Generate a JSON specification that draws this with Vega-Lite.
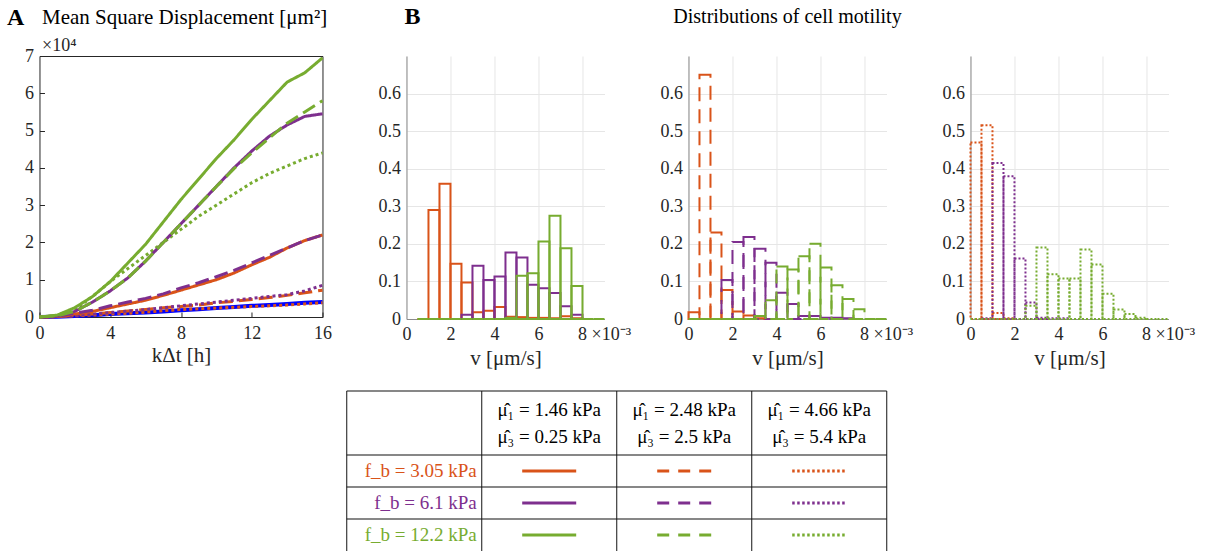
{
  "$schema": "https://vega.github.io/schema/vega-lite/v6.json",
  "background": "white",
  "padding": {"left": 5, "top": 4, "right": 5, "bottom": 0},
  "config": {
    "font": "Liberation Serif",
    "view": {"stroke": null},
    "axis": {"labelFont": "Liberation Serif", "titleFont": "Liberation Serif", "labelFontSize": 18, "titleFontSize": 21, "titleFontWeight": "normal", "labelColor": "#262626", "titleColor": "#262626", "labelOverlap": false, "labelFlush": false},
    "title": {"font": "Liberation Serif", "color": "#000000"},
    "text": {"font": "Liberation Serif"}
  },
  "resolve": {"scale": {"color": "independent", "strokeDash": "independent"}},
  "datasets": {
    "msd_reference": [
      {"t": 0, "msd": 0}, {"t": 1, "msd": 0.01}, {"t": 2, "msd": 0.03}, {"t": 3, "msd": 0.05}, {"t": 4, "msd": 0.08}, {"t": 5, "msd": 0.1}, {"t": 6, "msd": 0.12}, {"t": 7, "msd": 0.15}, {"t": 8, "msd": 0.18}, {"t": 9, "msd": 0.21}, {"t": 10, "msd": 0.24}, {"t": 11, "msd": 0.27}, {"t": 12, "msd": 0.3}, {"t": 13, "msd": 0.32}, {"t": 14, "msd": 0.35}, {"t": 15, "msd": 0.38}, {"t": 16, "msd": 0.4}
    ],
    "msd_model": [
      {"fb": "3.05", "mu": "4.66/5.4", "t": 0, "msd": 0}, {"fb": "3.05", "mu": "4.66/5.4", "t": 1, "msd": 0.01}, {"fb": "3.05", "mu": "4.66/5.4", "t": 2, "msd": 0.03}, {"fb": "3.05", "mu": "4.66/5.4", "t": 3, "msd": 0.05}, {"fb": "3.05", "mu": "4.66/5.4", "t": 4, "msd": 0.08}, {"fb": "3.05", "mu": "4.66/5.4", "t": 5, "msd": 0.1}, {"fb": "3.05", "mu": "4.66/5.4", "t": 6, "msd": 0.13}, {"fb": "3.05", "mu": "4.66/5.4", "t": 7, "msd": 0.17}, {"fb": "3.05", "mu": "4.66/5.4", "t": 8, "msd": 0.2}, {"fb": "3.05", "mu": "4.66/5.4", "t": 9, "msd": 0.22}, {"fb": "3.05", "mu": "4.66/5.4", "t": 10, "msd": 0.24}, {"fb": "3.05", "mu": "4.66/5.4", "t": 11, "msd": 0.26}, {"fb": "3.05", "mu": "4.66/5.4", "t": 12, "msd": 0.28}, {"fb": "3.05", "mu": "4.66/5.4", "t": 13, "msd": 0.3}, {"fb": "3.05", "mu": "4.66/5.4", "t": 14, "msd": 0.32}, {"fb": "3.05", "mu": "4.66/5.4", "t": 15, "msd": 0.35}, {"fb": "3.05", "mu": "4.66/5.4", "t": 16, "msd": 0.38},
      {"fb": "3.05", "mu": "2.48/2.5", "t": 0, "msd": 0}, {"fb": "3.05", "mu": "2.48/2.5", "t": 1, "msd": 0.01}, {"fb": "3.05", "mu": "2.48/2.5", "t": 2, "msd": 0.04}, {"fb": "3.05", "mu": "2.48/2.5", "t": 3, "msd": 0.08}, {"fb": "3.05", "mu": "2.48/2.5", "t": 4, "msd": 0.12}, {"fb": "3.05", "mu": "2.48/2.5", "t": 5, "msd": 0.16}, {"fb": "3.05", "mu": "2.48/2.5", "t": 6, "msd": 0.2}, {"fb": "3.05", "mu": "2.48/2.5", "t": 7, "msd": 0.25}, {"fb": "3.05", "mu": "2.48/2.5", "t": 8, "msd": 0.28}, {"fb": "3.05", "mu": "2.48/2.5", "t": 9, "msd": 0.32}, {"fb": "3.05", "mu": "2.48/2.5", "t": 10, "msd": 0.38}, {"fb": "3.05", "mu": "2.48/2.5", "t": 11, "msd": 0.42}, {"fb": "3.05", "mu": "2.48/2.5", "t": 12, "msd": 0.47}, {"fb": "3.05", "mu": "2.48/2.5", "t": 13, "msd": 0.52}, {"fb": "3.05", "mu": "2.48/2.5", "t": 14, "msd": 0.58}, {"fb": "3.05", "mu": "2.48/2.5", "t": 15, "msd": 0.65}, {"fb": "3.05", "mu": "2.48/2.5", "t": 16, "msd": 0.72},
      {"fb": "6.1", "mu": "4.66/5.4", "t": 0, "msd": 0}, {"fb": "6.1", "mu": "4.66/5.4", "t": 1, "msd": 0.01}, {"fb": "6.1", "mu": "4.66/5.4", "t": 2, "msd": 0.04}, {"fb": "6.1", "mu": "4.66/5.4", "t": 3, "msd": 0.08}, {"fb": "6.1", "mu": "4.66/5.4", "t": 4, "msd": 0.12}, {"fb": "6.1", "mu": "4.66/5.4", "t": 5, "msd": 0.16}, {"fb": "6.1", "mu": "4.66/5.4", "t": 6, "msd": 0.2}, {"fb": "6.1", "mu": "4.66/5.4", "t": 7, "msd": 0.25}, {"fb": "6.1", "mu": "4.66/5.4", "t": 8, "msd": 0.3}, {"fb": "6.1", "mu": "4.66/5.4", "t": 9, "msd": 0.35}, {"fb": "6.1", "mu": "4.66/5.4", "t": 10, "msd": 0.4}, {"fb": "6.1", "mu": "4.66/5.4", "t": 11, "msd": 0.45}, {"fb": "6.1", "mu": "4.66/5.4", "t": 12, "msd": 0.5}, {"fb": "6.1", "mu": "4.66/5.4", "t": 13, "msd": 0.55}, {"fb": "6.1", "mu": "4.66/5.4", "t": 14, "msd": 0.6}, {"fb": "6.1", "mu": "4.66/5.4", "t": 15, "msd": 0.7}, {"fb": "6.1", "mu": "4.66/5.4", "t": 16, "msd": 0.85},
      {"fb": "3.05", "mu": "1.46/0.25", "t": 0, "msd": 0}, {"fb": "3.05", "mu": "1.46/0.25", "t": 1, "msd": 0.02}, {"fb": "3.05", "mu": "1.46/0.25", "t": 2, "msd": 0.08}, {"fb": "3.05", "mu": "1.46/0.25", "t": 3, "msd": 0.15}, {"fb": "3.05", "mu": "1.46/0.25", "t": 4, "msd": 0.25}, {"fb": "3.05", "mu": "1.46/0.25", "t": 5, "msd": 0.35}, {"fb": "3.05", "mu": "1.46/0.25", "t": 6, "msd": 0.45}, {"fb": "3.05", "mu": "1.46/0.25", "t": 7, "msd": 0.58}, {"fb": "3.05", "mu": "1.46/0.25", "t": 8, "msd": 0.72}, {"fb": "3.05", "mu": "1.46/0.25", "t": 9, "msd": 0.86}, {"fb": "3.05", "mu": "1.46/0.25", "t": 10, "msd": 1.0}, {"fb": "3.05", "mu": "1.46/0.25", "t": 11, "msd": 1.18}, {"fb": "3.05", "mu": "1.46/0.25", "t": 12, "msd": 1.4}, {"fb": "3.05", "mu": "1.46/0.25", "t": 13, "msd": 1.6}, {"fb": "3.05", "mu": "1.46/0.25", "t": 14, "msd": 1.85}, {"fb": "3.05", "mu": "1.46/0.25", "t": 15, "msd": 2.05}, {"fb": "3.05", "mu": "1.46/0.25", "t": 16, "msd": 2.2},
      {"fb": "6.1", "mu": "2.48/2.5", "t": 0, "msd": 0}, {"fb": "6.1", "mu": "2.48/2.5", "t": 1, "msd": 0.02}, {"fb": "6.1", "mu": "2.48/2.5", "t": 2, "msd": 0.1}, {"fb": "6.1", "mu": "2.48/2.5", "t": 3, "msd": 0.18}, {"fb": "6.1", "mu": "2.48/2.5", "t": 4, "msd": 0.3}, {"fb": "6.1", "mu": "2.48/2.5", "t": 5, "msd": 0.4}, {"fb": "6.1", "mu": "2.48/2.5", "t": 6, "msd": 0.5}, {"fb": "6.1", "mu": "2.48/2.5", "t": 7, "msd": 0.62}, {"fb": "6.1", "mu": "2.48/2.5", "t": 8, "msd": 0.78}, {"fb": "6.1", "mu": "2.48/2.5", "t": 9, "msd": 0.92}, {"fb": "6.1", "mu": "2.48/2.5", "t": 10, "msd": 1.08}, {"fb": "6.1", "mu": "2.48/2.5", "t": 11, "msd": 1.25}, {"fb": "6.1", "mu": "2.48/2.5", "t": 12, "msd": 1.45}, {"fb": "6.1", "mu": "2.48/2.5", "t": 13, "msd": 1.65}, {"fb": "6.1", "mu": "2.48/2.5", "t": 14, "msd": 1.85}, {"fb": "6.1", "mu": "2.48/2.5", "t": 15, "msd": 2.05}, {"fb": "6.1", "mu": "2.48/2.5", "t": 16, "msd": 2.2},
      {"fb": "12.2", "mu": "4.66/5.4", "t": 0, "msd": 0}, {"fb": "12.2", "mu": "4.66/5.4", "t": 1, "msd": 0.03}, {"fb": "12.2", "mu": "4.66/5.4", "t": 2, "msd": 0.2}, {"fb": "12.2", "mu": "4.66/5.4", "t": 3, "msd": 0.55}, {"fb": "12.2", "mu": "4.66/5.4", "t": 4, "msd": 0.95}, {"fb": "12.2", "mu": "4.66/5.4", "t": 5, "msd": 1.3}, {"fb": "12.2", "mu": "4.66/5.4", "t": 6, "msd": 1.65}, {"fb": "12.2", "mu": "4.66/5.4", "t": 7, "msd": 2.0}, {"fb": "12.2", "mu": "4.66/5.4", "t": 8, "msd": 2.35}, {"fb": "12.2", "mu": "4.66/5.4", "t": 9, "msd": 2.7}, {"fb": "12.2", "mu": "4.66/5.4", "t": 10, "msd": 3.0}, {"fb": "12.2", "mu": "4.66/5.4", "t": 11, "msd": 3.3}, {"fb": "12.2", "mu": "4.66/5.4", "t": 12, "msd": 3.6}, {"fb": "12.2", "mu": "4.66/5.4", "t": 13, "msd": 3.85}, {"fb": "12.2", "mu": "4.66/5.4", "t": 14, "msd": 4.05}, {"fb": "12.2", "mu": "4.66/5.4", "t": 15, "msd": 4.25}, {"fb": "12.2", "mu": "4.66/5.4", "t": 16, "msd": 4.4},
      {"fb": "6.1", "mu": "1.46/0.25", "t": 0, "msd": 0}, {"fb": "6.1", "mu": "1.46/0.25", "t": 1, "msd": 0.03}, {"fb": "6.1", "mu": "1.46/0.25", "t": 2, "msd": 0.15}, {"fb": "6.1", "mu": "1.46/0.25", "t": 3, "msd": 0.4}, {"fb": "6.1", "mu": "1.46/0.25", "t": 4, "msd": 0.7}, {"fb": "6.1", "mu": "1.46/0.25", "t": 5, "msd": 1.05}, {"fb": "6.1", "mu": "1.46/0.25", "t": 6, "msd": 1.5}, {"fb": "6.1", "mu": "1.46/0.25", "t": 7, "msd": 2.0}, {"fb": "6.1", "mu": "1.46/0.25", "t": 8, "msd": 2.5}, {"fb": "6.1", "mu": "1.46/0.25", "t": 9, "msd": 3.0}, {"fb": "6.1", "mu": "1.46/0.25", "t": 10, "msd": 3.5}, {"fb": "6.1", "mu": "1.46/0.25", "t": 11, "msd": 4.0}, {"fb": "6.1", "mu": "1.46/0.25", "t": 12, "msd": 4.45}, {"fb": "6.1", "mu": "1.46/0.25", "t": 13, "msd": 4.85}, {"fb": "6.1", "mu": "1.46/0.25", "t": 14, "msd": 5.15}, {"fb": "6.1", "mu": "1.46/0.25", "t": 15, "msd": 5.38}, {"fb": "6.1", "mu": "1.46/0.25", "t": 16, "msd": 5.45},
      {"fb": "12.2", "mu": "2.48/2.5", "t": 0, "msd": 0}, {"fb": "12.2", "mu": "2.48/2.5", "t": 1, "msd": 0.03}, {"fb": "12.2", "mu": "2.48/2.5", "t": 2, "msd": 0.15}, {"fb": "12.2", "mu": "2.48/2.5", "t": 3, "msd": 0.4}, {"fb": "12.2", "mu": "2.48/2.5", "t": 4, "msd": 0.7}, {"fb": "12.2", "mu": "2.48/2.5", "t": 5, "msd": 1.05}, {"fb": "12.2", "mu": "2.48/2.5", "t": 6, "msd": 1.5}, {"fb": "12.2", "mu": "2.48/2.5", "t": 7, "msd": 2.0}, {"fb": "12.2", "mu": "2.48/2.5", "t": 8, "msd": 2.5}, {"fb": "12.2", "mu": "2.48/2.5", "t": 9, "msd": 3.0}, {"fb": "12.2", "mu": "2.48/2.5", "t": 10, "msd": 3.5}, {"fb": "12.2", "mu": "2.48/2.5", "t": 11, "msd": 3.98}, {"fb": "12.2", "mu": "2.48/2.5", "t": 12, "msd": 4.4}, {"fb": "12.2", "mu": "2.48/2.5", "t": 13, "msd": 4.8}, {"fb": "12.2", "mu": "2.48/2.5", "t": 14, "msd": 5.2}, {"fb": "12.2", "mu": "2.48/2.5", "t": 15, "msd": 5.5}, {"fb": "12.2", "mu": "2.48/2.5", "t": 16, "msd": 5.8},
      {"fb": "12.2", "mu": "1.46/0.25", "t": 0, "msd": 0}, {"fb": "12.2", "mu": "1.46/0.25", "t": 1, "msd": 0.05}, {"fb": "12.2", "mu": "1.46/0.25", "t": 2, "msd": 0.25}, {"fb": "12.2", "mu": "1.46/0.25", "t": 3, "msd": 0.55}, {"fb": "12.2", "mu": "1.46/0.25", "t": 4, "msd": 0.95}, {"fb": "12.2", "mu": "1.46/0.25", "t": 5, "msd": 1.45}, {"fb": "12.2", "mu": "1.46/0.25", "t": 6, "msd": 1.95}, {"fb": "12.2", "mu": "1.46/0.25", "t": 7, "msd": 2.55}, {"fb": "12.2", "mu": "1.46/0.25", "t": 8, "msd": 3.15}, {"fb": "12.2", "mu": "1.46/0.25", "t": 9, "msd": 3.7}, {"fb": "12.2", "mu": "1.46/0.25", "t": 10, "msd": 4.25}, {"fb": "12.2", "mu": "1.46/0.25", "t": 11, "msd": 4.75}, {"fb": "12.2", "mu": "1.46/0.25", "t": 12, "msd": 5.3}, {"fb": "12.2", "mu": "1.46/0.25", "t": 13, "msd": 5.8}, {"fb": "12.2", "mu": "1.46/0.25", "t": 14, "msd": 6.3}, {"fb": "12.2", "mu": "1.46/0.25", "t": 15, "msd": 6.55}, {"fb": "12.2", "mu": "1.46/0.25", "t": 16, "msd": 6.95}
    ],
    "hist_solid": [
      {"fb": "3.05", "v_lo": 0.5, "v_hi": 1.0, "prob": 0}, {"fb": "3.05", "v_lo": 1.0, "v_hi": 1.5, "prob": 0.29}, {"fb": "3.05", "v_lo": 1.5, "v_hi": 2.0, "prob": 0.36}, {"fb": "3.05", "v_lo": 2.0, "v_hi": 2.5, "prob": 0.147}, {"fb": "3.05", "v_lo": 2.5, "v_hi": 3.0, "prob": 0.097}, {"fb": "3.05", "v_lo": 3.0, "v_hi": 3.5, "prob": 0.018}, {"fb": "3.05", "v_lo": 3.5, "v_hi": 4.0, "prob": 0.022}, {"fb": "3.05", "v_lo": 4.0, "v_hi": 4.5, "prob": 0.032}, {"fb": "3.05", "v_lo": 4.5, "v_hi": 5.0, "prob": 0.006}, {"fb": "3.05", "v_lo": 5.0, "v_hi": 5.5, "prob": 0.005}, {"fb": "3.05", "v_lo": 5.5, "v_hi": 6.0, "prob": 0.003}, {"fb": "3.05", "v_lo": 6.0, "v_hi": 6.5, "prob": 0.003}, {"fb": "3.05", "v_lo": 6.5, "v_hi": 7.0, "prob": 0.002}, {"fb": "3.05", "v_lo": 7.0, "v_hi": 7.5, "prob": 0.007}, {"fb": "3.05", "v_lo": 7.5, "v_hi": 8.0, "prob": 0.002},
      {"fb": "6.1", "v_lo": 2.5, "v_hi": 3.0, "prob": 0.011}, {"fb": "6.1", "v_lo": 3.0, "v_hi": 3.5, "prob": 0.142}, {"fb": "6.1", "v_lo": 3.5, "v_hi": 4.0, "prob": 0.104}, {"fb": "6.1", "v_lo": 4.0, "v_hi": 4.5, "prob": 0.113}, {"fb": "6.1", "v_lo": 4.5, "v_hi": 5.0, "prob": 0.177}, {"fb": "6.1", "v_lo": 5.0, "v_hi": 5.5, "prob": 0.164}, {"fb": "6.1", "v_lo": 5.5, "v_hi": 6.0, "prob": 0.091}, {"fb": "6.1", "v_lo": 6.0, "v_hi": 6.5, "prob": 0.082}, {"fb": "6.1", "v_lo": 6.5, "v_hi": 7.0, "prob": 0.069}, {"fb": "6.1", "v_lo": 7.0, "v_hi": 7.5, "prob": 0.034}, {"fb": "6.1", "v_lo": 7.5, "v_hi": 8.0, "prob": 0.011},
      {"fb": "12.2", "v_lo": 0.5, "v_hi": 1.0, "prob": 0}, {"fb": "12.2", "v_lo": 1.0, "v_hi": 1.5, "prob": 0}, {"fb": "12.2", "v_lo": 1.5, "v_hi": 2.0, "prob": 0}, {"fb": "12.2", "v_lo": 2.0, "v_hi": 2.5, "prob": 0}, {"fb": "12.2", "v_lo": 2.5, "v_hi": 3.0, "prob": 0}, {"fb": "12.2", "v_lo": 3.0, "v_hi": 3.5, "prob": 0}, {"fb": "12.2", "v_lo": 3.5, "v_hi": 4.0, "prob": 0}, {"fb": "12.2", "v_lo": 4.0, "v_hi": 4.5, "prob": 0}, {"fb": "12.2", "v_lo": 4.5, "v_hi": 5.0, "prob": 0.003}, {"fb": "12.2", "v_lo": 5.0, "v_hi": 5.5, "prob": 0.115}, {"fb": "12.2", "v_lo": 5.5, "v_hi": 6.0, "prob": 0.122}, {"fb": "12.2", "v_lo": 6.0, "v_hi": 6.5, "prob": 0.206}, {"fb": "12.2", "v_lo": 6.5, "v_hi": 7.0, "prob": 0.275}, {"fb": "12.2", "v_lo": 7.0, "v_hi": 7.5, "prob": 0.188}, {"fb": "12.2", "v_lo": 7.5, "v_hi": 8.0, "prob": 0.088}, {"fb": "12.2", "v_lo": 8.0, "v_hi": 8.5, "prob": 0}, {"fb": "12.2", "v_lo": 8.5, "v_hi": 9.0, "prob": 0}
    ],
    "hist_dashed": [
      {"fb": "3.05", "v_lo": 0.0, "v_hi": 0.5, "prob": 0.018}, {"fb": "3.05", "v_lo": 0.5, "v_hi": 1.0, "prob": 0.65}, {"fb": "3.05", "v_lo": 1.0, "v_hi": 1.5, "prob": 0.23}, {"fb": "3.05", "v_lo": 1.5, "v_hi": 2.0, "prob": 0.077}, {"fb": "3.05", "v_lo": 2.0, "v_hi": 2.5, "prob": 0.02}, {"fb": "3.05", "v_lo": 2.5, "v_hi": 3.0, "prob": 0.009}, {"fb": "3.05", "v_lo": 3.0, "v_hi": 3.5, "prob": 0.002},
      {"fb": "6.1", "v_lo": 1.5, "v_hi": 2.0, "prob": 0.104}, {"fb": "6.1", "v_lo": 2.0, "v_hi": 2.5, "prob": 0.205}, {"fb": "6.1", "v_lo": 2.5, "v_hi": 3.0, "prob": 0.218}, {"fb": "6.1", "v_lo": 3.0, "v_hi": 3.5, "prob": 0.187}, {"fb": "6.1", "v_lo": 3.5, "v_hi": 4.0, "prob": 0.15}, {"fb": "6.1", "v_lo": 4.0, "v_hi": 4.5, "prob": 0.07}, {"fb": "6.1", "v_lo": 4.5, "v_hi": 5.0, "prob": 0.04}, {"fb": "6.1", "v_lo": 5.0, "v_hi": 5.5, "prob": 0.008}, {"fb": "6.1", "v_lo": 5.5, "v_hi": 6.0, "prob": 0.008}, {"fb": "6.1", "v_lo": 6.0, "v_hi": 6.5, "prob": 0.003}, {"fb": "6.1", "v_lo": 6.5, "v_hi": 7.0, "prob": 0.003}, {"fb": "6.1", "v_lo": 7.0, "v_hi": 7.5, "prob": 0.002},
      {"fb": "12.2", "v_lo": 0.0, "v_hi": 0.5, "prob": 0}, {"fb": "12.2", "v_lo": 0.5, "v_hi": 1.0, "prob": 0}, {"fb": "12.2", "v_lo": 1.0, "v_hi": 1.5, "prob": 0}, {"fb": "12.2", "v_lo": 1.5, "v_hi": 2.0, "prob": 0}, {"fb": "12.2", "v_lo": 2.0, "v_hi": 2.5, "prob": 0}, {"fb": "12.2", "v_lo": 2.5, "v_hi": 3.0, "prob": 0}, {"fb": "12.2", "v_lo": 3.0, "v_hi": 3.5, "prob": 0.008}, {"fb": "12.2", "v_lo": 3.5, "v_hi": 4.0, "prob": 0.05}, {"fb": "12.2", "v_lo": 4.0, "v_hi": 4.5, "prob": 0.14}, {"fb": "12.2", "v_lo": 4.5, "v_hi": 5.0, "prob": 0.132}, {"fb": "12.2", "v_lo": 5.0, "v_hi": 5.5, "prob": 0.167}, {"fb": "12.2", "v_lo": 5.5, "v_hi": 6.0, "prob": 0.2}, {"fb": "12.2", "v_lo": 6.0, "v_hi": 6.5, "prob": 0.137}, {"fb": "12.2", "v_lo": 6.5, "v_hi": 7.0, "prob": 0.09}, {"fb": "12.2", "v_lo": 7.0, "v_hi": 7.5, "prob": 0.053}, {"fb": "12.2", "v_lo": 7.5, "v_hi": 8.0, "prob": 0.026}, {"fb": "12.2", "v_lo": 8.0, "v_hi": 8.5, "prob": 0}, {"fb": "12.2", "v_lo": 8.5, "v_hi": 9.0, "prob": 0}
    ],
    "hist_dotted": [
      {"fb": "3.05", "v_lo": 0.0, "v_hi": 0.5, "prob": 0.47}, {"fb": "3.05", "v_lo": 0.5, "v_hi": 1.0, "prob": 0.516}, {"fb": "3.05", "v_lo": 1.0, "v_hi": 1.5, "prob": 0.016}, {"fb": "3.05", "v_lo": 1.5, "v_hi": 2.0, "prob": 0.002},
      {"fb": "6.1", "v_lo": 0.5, "v_hi": 1.0, "prob": 0.002}, {"fb": "6.1", "v_lo": 1.0, "v_hi": 1.5, "prob": 0.415}, {"fb": "6.1", "v_lo": 1.5, "v_hi": 2.0, "prob": 0.38}, {"fb": "6.1", "v_lo": 2.0, "v_hi": 2.5, "prob": 0.161}, {"fb": "6.1", "v_lo": 2.5, "v_hi": 3.0, "prob": 0.044}, {"fb": "6.1", "v_lo": 3.0, "v_hi": 3.5, "prob": 0.003}, {"fb": "6.1", "v_lo": 3.5, "v_hi": 4.0, "prob": 0.002}, {"fb": "6.1", "v_lo": 4.0, "v_hi": 4.5, "prob": 0.002},
      {"fb": "12.2", "v_lo": 0.0, "v_hi": 0.5, "prob": 0}, {"fb": "12.2", "v_lo": 0.5, "v_hi": 1.0, "prob": 0}, {"fb": "12.2", "v_lo": 1.0, "v_hi": 1.5, "prob": 0}, {"fb": "12.2", "v_lo": 1.5, "v_hi": 2.0, "prob": 0}, {"fb": "12.2", "v_lo": 2.0, "v_hi": 2.5, "prob": 0}, {"fb": "12.2", "v_lo": 2.5, "v_hi": 3.0, "prob": 0.035}, {"fb": "12.2", "v_lo": 3.0, "v_hi": 3.5, "prob": 0.19}, {"fb": "12.2", "v_lo": 3.5, "v_hi": 4.0, "prob": 0.119}, {"fb": "12.2", "v_lo": 4.0, "v_hi": 4.5, "prob": 0.108}, {"fb": "12.2", "v_lo": 4.5, "v_hi": 5.0, "prob": 0.108}, {"fb": "12.2", "v_lo": 5.0, "v_hi": 5.5, "prob": 0.185}, {"fb": "12.2", "v_lo": 5.5, "v_hi": 6.0, "prob": 0.145}, {"fb": "12.2", "v_lo": 6.0, "v_hi": 6.5, "prob": 0.067}, {"fb": "12.2", "v_lo": 6.5, "v_hi": 7.0, "prob": 0.025}, {"fb": "12.2", "v_lo": 7.0, "v_hi": 7.5, "prob": 0.013}, {"fb": "12.2", "v_lo": 7.5, "v_hi": 8.0, "prob": 0.003}, {"fb": "12.2", "v_lo": 8.0, "v_hi": 8.5, "prob": 0}, {"fb": "12.2", "v_lo": 8.5, "v_hi": 9.0, "prob": 0}
    ],
    "table_columns": [
      {"col": "label"},
      {"col": "1.46/0.25", "row": "header", "text": "μ̂₁ = 1.46 kPa\nμ̂₃ = 0.25 kPa"},
      {"col": "2.48/2.5", "row": "header", "text": "μ̂₁ = 2.48 kPa\nμ̂₃ = 2.5 kPa"},
      {"col": "4.66/5.4", "row": "header", "text": "μ̂₁ = 4.66 kPa\nμ̂₃ = 5.4 kPa"}
    ],
    "table_rows": [
      {"row": "header"},
      {"row": "3.05", "col": "label", "text": "f_b = 3.05 kPa"},
      {"row": "6.1", "col": "label", "text": "f_b = 6.1 kPa"},
      {"row": "12.2", "col": "label", "text": "f_b = 12.2 kPa"}
    ],
    "table_cells": [
      {"row": "3.05", "col": "1.46/0.25"}, {"row": "3.05", "col": "2.48/2.5"}, {"row": "3.05", "col": "4.66/5.4"},
      {"row": "6.1", "col": "1.46/0.25"}, {"row": "6.1", "col": "2.48/2.5"}, {"row": "6.1", "col": "4.66/5.4"},
      {"row": "12.2", "col": "1.46/0.25"}, {"row": "12.2", "col": "2.48/2.5"}, {"row": "12.2", "col": "4.66/5.4"}
    ]
  },
  "vconcat": [
    {
      "hconcat": [
        {
          "width": 283, "height": 261,
          "view": {"stroke": "#262626", "strokeWidth": 1},
          "resolve": {"axis": {"x": "independent", "y": "independent"}},
          "layer": [
            {"data": {"name": "msd_reference"}, "mark": {"type": "line", "color": "#0000ff", "strokeWidth": 4},
             "encoding": {
               "x": {"field": "t", "type": "quantitative", "scale": {"domain": [0, 16], "nice": false}, "axis": {"orient": "bottom", "values": [0, 4, 8, 12, 16], "title": "kΔt  [h]", "grid": false, "domain": false, "tickSize": -5, "tickColor": "#262626", "labelPadding": 12, "titlePadding": 2}},
               "y": {"field": "msd", "type": "quantitative", "scale": {"domain": [0, 7], "nice": false}, "axis": {"orient": "left", "values": [0, 1, 2, 3, 4, 5, 6, 7], "title": "A", "titleFontSize": 24, "titleFontWeight": "bold", "titleColor": "#000000", "titleAngle": 0, "titleX": -33, "titleY": -32, "titleAlign": "left", "titleBaseline": "alphabetic", "grid": false, "domain": false, "tickSize": -5, "tickColor": "#262626", "labelPadding": 11}}
             }},
            {"data": {"name": "msd_model"}, "mark": {"type": "line", "strokeWidth": 3},
             "encoding": {
               "x": {"field": "t", "type": "quantitative", "axis": {"orient": "top", "labels": false, "ticks": false, "domain": false, "grid": false, "title": "Mean Square Displacement [μm²]", "titleFontSize": 21, "titleColor": "#000000", "titleX": 2, "titleY": -33, "titleAlign": "left", "titleBaseline": "alphabetic", "titleAngle": 0}},
               "y": {"field": "msd", "type": "quantitative", "axis": {"orient": "left", "labels": false, "ticks": false, "domain": false, "grid": false, "title": "×10⁴", "titleFontSize": 18, "titleAngle": 0, "titleX": 2, "titleY": -6, "titleAlign": "left", "titleBaseline": "alphabetic"}},
               "color": {"field": "fb", "type": "nominal", "scale": {"domain": ["3.05", "6.1", "12.2"], "range": ["#D95319", "#7E2F8E", "#77AC30"]}, "legend": null},
               "strokeDash": {"field": "mu", "type": "nominal", "scale": {"domain": ["1.46/0.25", "2.48/2.5", "4.66/5.4"], "range": [[1, 0], [14, 6], [3, 3]]}, "legend": null}
             }}
          ]
        },
        {
          "width": 198, "height": 263,
          "view": {"stroke": null},
          "title": {"text": "B", "anchor": "start", "frame": "group", "fontSize": 24, "fontWeight": "bold", "baseline": "alphabetic", "offset": 8, "dx": -2},
          "data": {"name": "hist_solid"},
          "mark": {"type": "rect", "filled": false, "strokeWidth": 2},
          "encoding": {
            "x": {"field": "v_lo", "type": "quantitative", "scale": {"domain": [0, 9], "nice": false, "zero": false}, "axis": {"values": [0, 2, 4, 6, 8], "title": "v  [μm/s]", "grid": true, "gridColor": "#e6e6e6", "domainColor": "#8c8c8c", "ticks": false, "labelPadding": 6, "titlePadding": 4, "labelExpr": "datum.value == 8 ? '8 ×10⁻³' : datum.label", "labelAlign": {"condition": {"test": "datum.value == 8", "value": "left"}, "value": "center"}, "labelOffset": {"condition": {"test": "datum.value == 8", "value": -5}, "value": 0}}},
            "x2": {"field": "v_hi"},
            "y": {"field": "prob", "type": "quantitative", "scale": {"domain": [0, 0.7], "nice": false}, "axis": {"values": [0, 0.1, 0.2, 0.3, 0.4, 0.5, 0.6], "format": ".1~f", "title": null, "grid": true, "gridColor": "#e6e6e6", "domainColor": "#8c8c8c", "ticks": false, "labelPadding": 6}},
            "y2": {"datum": 0},
            "color": {"field": "fb", "type": "nominal", "scale": {"domain": ["3.05", "6.1", "12.2"], "range": ["#D95319", "#7E2F8E", "#77AC30"]}, "legend": null}
          }
        },
        {
          "width": 198, "height": 263,
          "view": {"stroke": null},
          "title": {"text": "Distributions of cell motility", "anchor": "middle", "frame": "group", "fontSize": 20, "fontWeight": "normal", "baseline": "alphabetic", "offset": 13},
          "data": {"name": "hist_dashed"},
          "mark": {"type": "rect", "filled": false, "strokeWidth": 2, "strokeDash": [14, 8]},
          "encoding": {
            "x": {"field": "v_lo", "type": "quantitative", "scale": {"domain": [0, 9], "nice": false, "zero": false}, "axis": {"values": [0, 2, 4, 6, 8], "title": "v  [μm/s]", "grid": true, "gridColor": "#e6e6e6", "domainColor": "#8c8c8c", "ticks": false, "labelPadding": 6, "titlePadding": 4, "labelExpr": "datum.value == 8 ? '8 ×10⁻³' : datum.label", "labelAlign": {"condition": {"test": "datum.value == 8", "value": "left"}, "value": "center"}, "labelOffset": {"condition": {"test": "datum.value == 8", "value": -5}, "value": 0}}},
            "x2": {"field": "v_hi"},
            "y": {"field": "prob", "type": "quantitative", "scale": {"domain": [0, 0.7], "nice": false}, "axis": {"values": [0, 0.1, 0.2, 0.3, 0.4, 0.5, 0.6], "format": ".1~f", "title": null, "grid": true, "gridColor": "#e6e6e6", "domainColor": "#8c8c8c", "ticks": false, "labelPadding": 6}},
            "y2": {"datum": 0},
            "color": {"field": "fb", "type": "nominal", "scale": {"domain": ["3.05", "6.1", "12.2"], "range": ["#D95319", "#7E2F8E", "#77AC30"]}, "legend": null}
          }
        },
        {
          "width": 198, "height": 263,
          "view": {"stroke": null},
          "data": {"name": "hist_dotted"},
          "mark": {"type": "rect", "filled": false, "strokeWidth": 2, "strokeDash": [2, 2]},
          "encoding": {
            "x": {"field": "v_lo", "type": "quantitative", "scale": {"domain": [0, 9], "nice": false, "zero": false}, "axis": {"values": [0, 2, 4, 6, 8], "title": "v  [μm/s]", "grid": true, "gridColor": "#e6e6e6", "domainColor": "#8c8c8c", "ticks": false, "labelPadding": 6, "titlePadding": 4, "labelExpr": "datum.value == 8 ? '8 ×10⁻³' : datum.label", "labelAlign": {"condition": {"test": "datum.value == 8", "value": "left"}, "value": "center"}, "labelOffset": {"condition": {"test": "datum.value == 8", "value": -5}, "value": 0}}},
            "x2": {"field": "v_hi"},
            "y": {"field": "prob", "type": "quantitative", "scale": {"domain": [0, 0.7], "nice": false}, "axis": {"values": [0, 0.1, 0.2, 0.3, 0.4, 0.5, 0.6], "format": ".1~f", "title": null, "grid": true, "gridColor": "#e6e6e6", "domainColor": "#8c8c8c", "ticks": false, "labelPadding": 6}},
            "y2": {"datum": 0},
            "color": {"field": "fb", "type": "nominal", "scale": {"domain": ["3.05", "6.1", "12.2"], "range": ["#D95319", "#7E2F8E", "#77AC30"]}, "legend": null}
          }
        }
      ],
      "spacing": 84,
      "bounds": "flush"
    },
    {
      "width": 540, "height": 160,
      "view": {"stroke": null},
      "layer": [
        {"data": {"name": "table_columns"}, "mark": {"type": "rule", "color": "#3a3a3a", "strokeWidth": 1.2},
         "encoding": {"x": {"field": "col", "type": "nominal", "bandPosition": 0, "scale": {"domain": ["label", "1.46/0.25", "2.48/2.5", "4.66/5.4"], "paddingInner": 0, "paddingOuter": 0}, "axis": null}}},
        {"data": {"name": "table_columns"}, "transform": [{"filter": "datum.col == '4.66/5.4'"}], "mark": {"type": "rule", "color": "#3a3a3a", "strokeWidth": 1.2},
         "encoding": {"x": {"field": "col", "type": "nominal", "bandPosition": 1, "axis": null}}},
        {"data": {"name": "table_rows"}, "mark": {"type": "rule", "color": "#111111", "strokeWidth": 1.2},
         "encoding": {"y": {"field": "row", "type": "nominal", "bandPosition": 0, "scale": {"domain": ["header", "header_2", "3.05", "6.1", "12.2"], "paddingInner": 0, "paddingOuter": 0}, "axis": null}}},
        {"data": {"name": "table_columns"}, "transform": [{"filter": "isValid(datum.text)"}], "mark": {"type": "text", "fontSize": 19, "color": "#000000", "lineBreak": "\n", "lineHeight": 27, "baseline": "middle", "align": "center", "dy": -13.5},
         "encoding": {"x": {"field": "col", "type": "nominal", "bandPosition": 0.5, "axis": null}, "y": {"field": "row", "type": "nominal", "bandPosition": 1, "axis": null}, "text": {"field": "text"}}},
        {"data": {"name": "table_rows"}, "transform": [{"filter": "datum.row != 'header'"}], "mark": {"type": "text", "fontSize": 19, "baseline": "middle", "align": "right", "dx": -5},
         "encoding": {"x": {"field": "col", "type": "nominal", "bandPosition": 1, "axis": null}, "y": {"field": "row", "type": "nominal", "bandPosition": 0.5, "axis": null}, "text": {"field": "text"},
           "color": {"field": "row", "type": "nominal", "scale": {"domain": ["3.05", "6.1", "12.2"], "range": ["#D95319", "#7E2F8E", "#77AC30"]}, "legend": null}}},
        {"data": {"name": "table_cells"}, "mark": {"type": "rule", "strokeWidth": 3},
         "encoding": {"x": {"field": "col", "type": "nominal", "bandPosition": 0.3, "axis": null}, "x2": {"field": "col", "bandPosition": 0.7}, "y": {"field": "row", "type": "nominal", "bandPosition": 0.5, "axis": null},
           "color": {"field": "row", "type": "nominal", "scale": {"domain": ["3.05", "6.1", "12.2"], "range": ["#D95319", "#7E2F8E", "#77AC30"]}, "legend": null},
           "strokeDash": {"field": "col", "type": "nominal", "scale": {"domain": ["1.46/0.25", "2.48/2.5", "4.66/5.4"], "range": [[1, 0], [12, 9], [2.5, 2.5]]}, "legend": null}}}
      ]
    }
  ],
  "spacing": 22,
  "center": true
}
